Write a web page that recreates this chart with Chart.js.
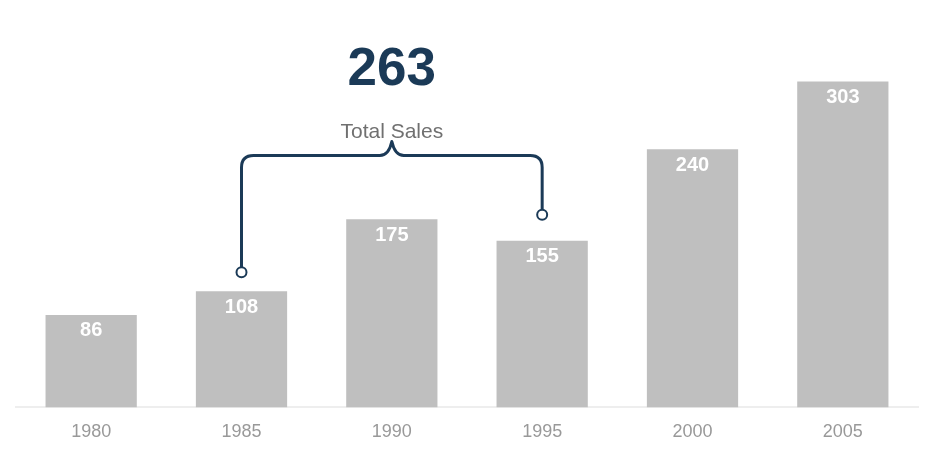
<!DOCTYPE html>
<html lang="en">
  <head>
    <meta charset="UTF-8" />
    <script src="https://cdn.jsdelivr.net/npm/chart.js"></script>
    <title>Total Sales</title>
    <style>
      body { margin: 0; background: #fff; }
      #wrap { width: 936px; height: 459px; }
    </style>
  </head>
  <body>
    <div id="wrap"><canvas id="myChart"></canvas></div>
    <script>
      // data
      const years = ["1980", "1985", "1990", "1995", "2000", "2005"];
      const sales = [86, 108, 175, 155, 240, 303];
      const bracketFrom = 1; // 1985
      const bracketTo = 3;   // 1995
      const bracketLabel = "Total Sales";
      const bracketTotal = sales[bracketFrom] + sales[bracketTo];

      const navy = "#1b3a57";

      // white value labels inside the bars
      const valueLabels = {
        id: "valueLabels",
        afterDatasetsDraw(chart) {
          const ctx = chart.ctx;
          const meta = chart.getDatasetMeta(0);
          ctx.save();
          ctx.fillStyle = "#ffffff";
          ctx.font = "bold 20px 'Liberation Sans', Arial, sans-serif";
          ctx.textAlign = "center";
          ctx.textBaseline = "middle";
          meta.data.forEach((bar, i) => {
            ctx.fillText(sales[i], bar.x, bar.y + 16);
          });
          ctx.restore();
        }
      };

      // bracket over two bars with the total
      const bracket = {
        id: "bracket",
        afterDraw(chart) {
          const ctx = chart.ctx;
          const x = chart.scales.x;
          const y = chart.scales.y;
          const x1 = x.getPixelForValue(bracketFrom);
          const x2 = x.getPixelForValue(bracketTo);
          const y1 = y.getPixelForValue(sales[bracketFrom]) - 19;
          const y2 = y.getPixelForValue(sales[bracketTo]) - 26;
          const top = y.getPixelForValue(Math.max(...sales)) + 74;
          const mid = (x1 + x2) / 2;
          const r = 12;
          ctx.save();
          ctx.strokeStyle = navy;
          ctx.lineWidth = 3;
          ctx.lineJoin = "round";
          ctx.beginPath();
          ctx.moveTo(x1, y1 - 5);
          ctx.lineTo(x1, top + r);
          ctx.quadraticCurveTo(x1, top, x1 + r, top);
          ctx.lineTo(mid - 12, top);
          ctx.quadraticCurveTo(mid - 3, top, mid, top - 14);
          ctx.quadraticCurveTo(mid + 3, top, mid + 12, top);
          ctx.lineTo(x2 - r, top);
          ctx.quadraticCurveTo(x2, top, x2, top + r);
          ctx.lineTo(x2, y2 - 5);
          ctx.stroke();
          ctx.lineWidth = 2;
          ctx.fillStyle = "#ffffff";
          [[x1, y1], [x2, y2]].forEach(p => {
            ctx.beginPath();
            ctx.arc(p[0], p[1], 5, 0, Math.PI * 2);
            ctx.fill();
            ctx.stroke();
          });
          ctx.textAlign = "center";
          ctx.textBaseline = "middle";
          ctx.fillStyle = "#707070";
          ctx.font = "21px 'Liberation Sans', Arial, sans-serif";
          ctx.fillText(bracketLabel, mid, top - 23);
          ctx.fillStyle = navy;
          ctx.font = "bold 53px 'Liberation Sans', Arial, sans-serif";
          ctx.fillText(bracketTotal, mid, top - 85);
          ctx.restore();
        }
      };

      const config = {
        type: "bar",
        data: {
          labels: years,
          datasets: [
            {
              label: "Sales",
              backgroundColor: "#bfbfbf",
              data: sales,
              barPercentage: 0.607,
              categoryPercentage: 1.0
            }
          ]
        },
        options: {
          responsive: true,
          maintainAspectRatio: false,
          animation: false,
          layout: { padding: { left: 16, right: 18, top: 31, bottom: 2 } },
          plugins: { legend: { display: false }, tooltip: { enabled: false } },
          scales: {
            x: {
              grid: { display: false, drawTicks: false },
              border: { color: "#eeeeee", width: 2 },
              ticks: {
                color: "#999999",
                padding: 14,
                font: { family: "'Liberation Sans', Arial, sans-serif", size: 18 }
              }
            },
            y: { display: false, min: 0, max: 350 }
          }
        },
        plugins: [valueLabels, bracket]
      };
      var myChart = new Chart(document.getElementById("myChart"), config);
    </script>
  </body>
</html>
